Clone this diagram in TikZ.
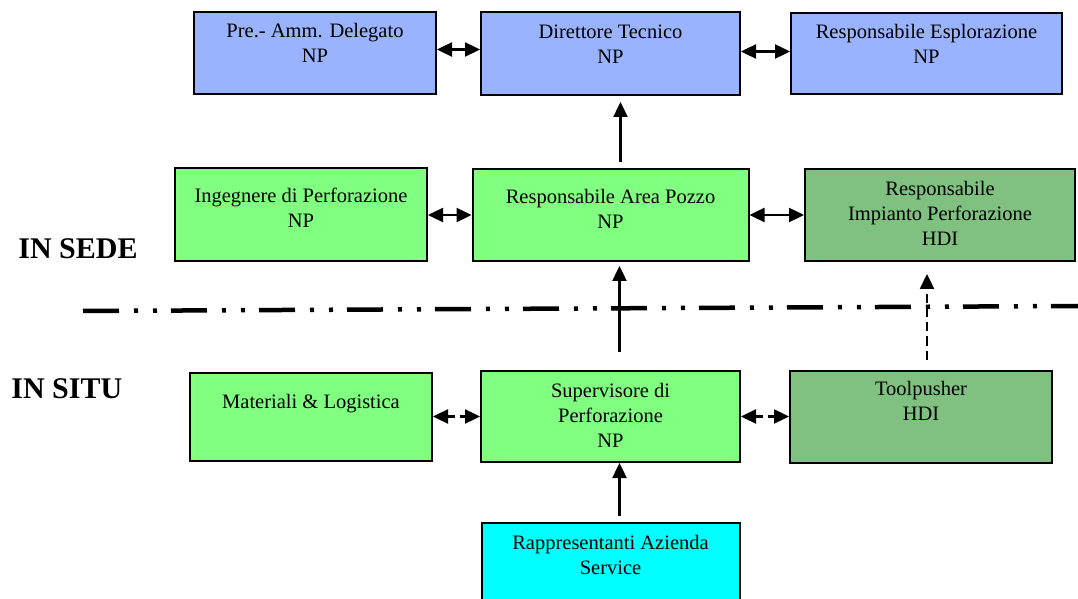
\documentclass[tikz,border=0pt]{standalone}
\usepackage{fontspec}
\setmainfont{Liberation Serif}
\usetikzlibrary{positioning,arrows.meta}
\definecolor{nodeblue}{RGB}{153,179,255}
\definecolor{nodegreen}{RGB}{128,255,128}
\definecolor{hdigreen}{RGB}{128,192,128}
\definecolor{servicecyan}{RGB}{0,255,255}

\begin{document}
\begin{tikzpicture}[x=0.5pt,y=-0.5pt,on grid,>={Triangle[length=7.5pt,width=7pt]},
    box/.style={draw,line width=1pt,inner sep=0pt},
    txt/.style={anchor=north,inner sep=0pt,align=center,font=\fontsize{10.25}{12.5}\selectfont},
    link/.style={line width=1.2pt},
    side/.style={anchor=base west,inner sep=0pt,font=\fontsize{15}{18}\selectfont\bfseries}]
   \useasboundingbox (0,0) rectangle (1078,599);
   % in sede
   \node[box,fill=nodeblue,minimum width=129.5pt,minimum height=41.5pt,
     label={[txt,yshift=-4.75pt]north:{\strut Direttore Tecnico\\NP}}] (dir) at (610.5,53.5) {};
   \node[box,fill=nodeblue,minimum width=121pt,minimum height=41pt,
     label={[txt,yshift=-4.25pt]north:{\strut Pre.- Amm. Delegato\\NP}}] (pre) [left=147.75pt of dir] {};
   \node[box,fill=nodeblue,minimum width=135.5pt,minimum height=40.5pt,
     label={[txt,yshift=-4.25pt]north:{\strut Responsabile Esplorazione\\NP}}] (espl) [right=158pt of dir] {};
   \node[box,fill=nodegreen,minimum width=138pt,minimum height=46pt,
     label={[txt,yshift=-8.75pt]north:{\strut Responsabile Area Pozzo\\NP}}] (pozzo) [below=80.75pt of dir] {};
   \node[box,fill=nodegreen,minimum width=126pt,minimum height=46.5pt,
     label={[txt,yshift=-8.75pt]north:{\strut Ingegnere di Perforazione\\NP}}] (ing) [left=154.75pt of pozzo] {};
   \node[box,fill=hdigreen,minimum width=135pt,minimum height=46pt,
     label={[txt,yshift=-4.75pt]north:{\strut Responsabile\\Impianto Perforazione\\HDI}}] (imp) [right=164.75pt of pozzo] {};
   % in situ
   \node[box,fill=nodegreen,minimum width=129.5pt,minimum height=45.5pt,
     label={[txt,yshift=-4.75pt]north:{\strut Supervisore di\\Perforazione\\NP}}] (sup) [below=100.75pt of pozzo] {};
   \node[box,fill=nodegreen,minimum width=121pt,minimum height=44pt,
     label={[txt,yshift=-9.5pt]north:{\strut Materiali \& Logistica}}] (mat) [left=149.75pt of sup] {};
   \node[box,fill=hdigreen,minimum width=131pt,minimum height=46pt,
     label={[txt,yshift=-4.25pt]north:{\strut Toolpusher\\HDI}}] (tool) [right=155.25pt of sup] {};
   \node[box,fill=servicecyan,minimum width=129pt,minimum height=45pt,
     label={[txt,yshift=-5pt]north:{\strut Rappresentanti Azienda\\Service}}] (rapp) [below=75.75pt of sup] {};
   \node[side] (sede) at (18,258) {IN SEDE};
   \node[side] (situ) at (11,398) {IN SITU};
   % separation
   \draw[line width=2.25pt,dash pattern=on 18pt off 7.5pt on 2pt off 7.5pt on 2pt off 7pt]
     (83,311) -- (1078,306);
   % links
   \path[link,<->]
     ([yshift=2pt]pre.east) edge ([yshift=2pt]dir.west)
     ([yshift=1pt]dir.east) edge ([yshift=1pt]espl.west)
     (ing.east) edge (pozzo.west)
     (pozzo.east) edge (imp.west);
   \path[link,<->,dash pattern=on 4pt off 2.5pt]
     (mat.east) edge (sup.west)
     (sup.east) edge (tool.west);
   \draw[link,->,shorten <=3pt,shorten >=3pt] ([xshift=5pt]pozzo.north) -- ([xshift=5pt]dir.south);
   \draw[link,->,shorten <=9pt,shorten >=2pt] ([xshift=4.5pt]sup.north) -- ([xshift=4.5pt]pozzo.south);
   \draw[link,->,shorten <=3pt] ([xshift=4.5pt]rapp.north) -- ([xshift=4.5pt]sup.south);
   \draw[link,->,dash pattern=on 4.5pt off 2.5pt,shorten <=5pt,shorten >=6pt]
     ([xshift=3pt]tool.north) -- ([xshift=3pt]tool.north |- imp.south);
\end{tikzpicture}
\end{document}
